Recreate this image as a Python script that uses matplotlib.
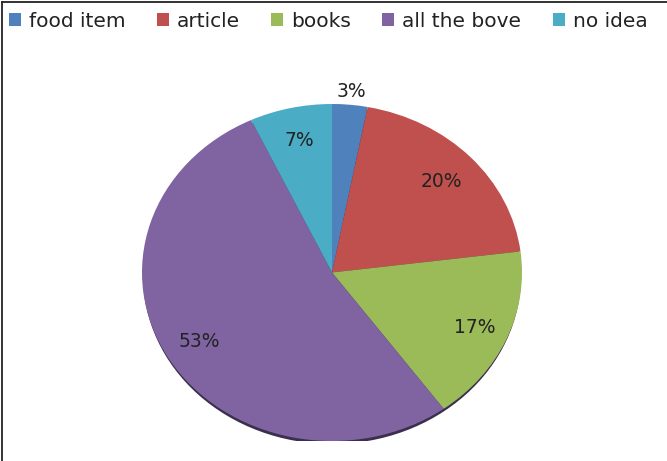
import numpy as np
import matplotlib
matplotlib.use("Agg")
import matplotlib.pyplot as plt
from matplotlib.patches import Ellipse, Patch
from matplotlib.lines import Line2D

categories = ["food item", "article", "books", "all the bove", "no idea"]
shares = [3, 20, 17, 53, 7]
colors = ["#4F81BD", "#C0504D", "#9BBB59", "#8064A2", "#4BACC6"]

fig = plt.figure(figsize=(6.67, 4.61), dpi=100)
fig.patch.set_facecolor("white")

# Chart border: only the top and left edges are in view
fig.add_artist(Line2D([0.003, 1.0], [0.9957, 0.9957], transform=fig.transFigure,
                      color="#222222", linewidth=1.3))
fig.add_artist(Line2D([0.003, 0.003], [0.0, 0.9957], transform=fig.transFigure,
                      color="#222222", linewidth=1.3))

ax = fig.add_axes([142 / 667, 20 / 461, 380 / 667, 337 / 461])

# Thin dark rim under the disc
ax.add_patch(Ellipse((0, -0.018), 1.99, 2.0, facecolor="#3b2f4d", edgecolor="none", zorder=0))

wedges, _ = ax.pie(shares, colors=colors, startangle=90, counterclock=False,
                   wedgeprops=dict(linewidth=0), radius=1.0)
for w in wedges:
    w.set_zorder(1)

ax.set_aspect("auto")
ax.set_xlim(-1, 1)
ax.set_ylim(-1, 1)
ax.axis("off")

# Percentage labels placed at each wedge's mid-angle
label_radius = [1.08, 0.79, 0.82, 0.81, 0.80]
total = sum(shares)
start = 90.0
for v, r in zip(shares, label_radius):
    span = 360.0 * v / total
    mid = np.deg2rad(start - span / 2)
    ax.text(r * np.cos(mid), r * np.sin(mid), f"{v}%", ha="center", va="center",
            fontsize=13.5, color="#222222", zorder=3)
    start -= span

handles = [Patch(facecolor=c, edgecolor="none") for c in colors]
fig.legend(handles, categories, loc="upper left", bbox_to_anchor=(0.013, 0.975),
           ncol=5, frameon=False, fontsize=14.5, handlelength=0.6, handleheight=0.6,
           handletextpad=0.4, columnspacing=1.55, borderaxespad=0.0, borderpad=0.0,
           labelcolor="#222222")

fig.savefig("out.png", dpi=100)
